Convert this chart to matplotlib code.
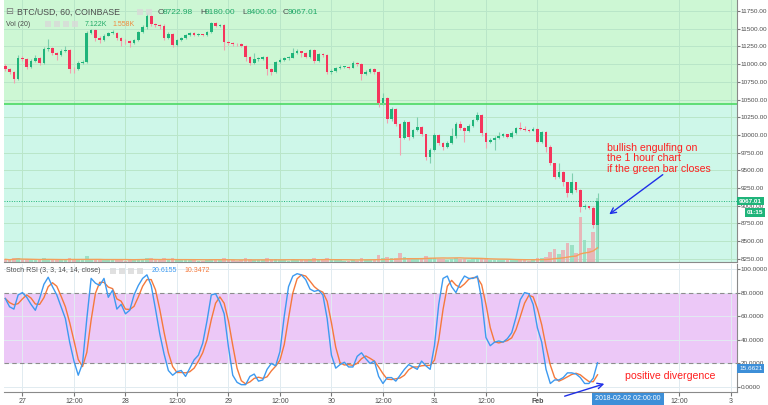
import numpy as np
import pandas as pd
import matplotlib
matplotlib.use('Agg')
import matplotlib.pyplot as plt
from matplotlib.ticker import FuncFormatter
from matplotlib.patches import Rectangle

plt.rcParams['font.family'] = ['Liberation Sans', 'DejaVu Sans']

# hourly BTC/USD candles, Jan 26 20:00 -> Feb 1 14:00
first_open = 10974
closes = [10931, 10889, 10790, 11086, 11072, 10960, 11044, 11086, 11016, 11213,
          11228, 11157, 11129, 11185, 11199, 10931, 10924, 11016, 11030, 11440,
          11482, 11369, 11340, 11397, 11440, 11446, 11369, 11326, 11320, 11298,
          11340, 11453, 11524, 11680, 11560, 11550, 11540, 11370, 11430, 11270,
          11340, 11362, 11411, 11440, 11411, 11418, 11410, 11453, 11580, 11538,
          11552, 11312, 11291, 11284, 11280, 11256, 11100, 11016, 11072, 11075,
          11100, 10931, 10889, 11030, 11058, 11086, 11090, 11157, 11185, 11157,
          11100, 11199, 11044, 11143, 11129, 10889, 10903, 10945, 10960, 10965,
          10950, 11016, 11002, 10860, 10889, 10924, 10889, 10451, 10520, 10225,
          10366, 10154, 9957, 10183, 9971, 10070, 10112, 10013, 9688, 9787,
          9999, 9886, 9830, 9886, 9985, 10155, 10098, 10056, 10126, 10211,
          10282, 10027, 9900, 9928, 9950, 9985, 10013, 9971, 10027, 10098,
          10090, 10070, 10060, 10090, 9900, 10041, 9830, 9604, 9406, 9477,
          9335, 9180, 9335, 9222, 8982, 8995, 8975, 8722.98, 9067.01]
highs = [11000, 10950, 10900, 11130, 11110, 11080, 11070, 11130, 11100, 11240,
         11355, 11240, 11170, 11210, 11260, 11210, 10960, 11040, 11060, 11470,
         11500, 11490, 11390, 11420, 11460, 11480, 11460, 11380, 11350, 11340,
         11360, 11470, 11550, 11720, 11700, 11580, 11570, 11560, 11450, 11440,
         11360, 11380, 11430, 11460, 11450, 11440, 11430, 11470, 11600, 11600,
         11570, 11570, 11330, 11310, 11300, 11300, 11270, 11110, 11157, 11100,
         11120, 11110, 10940, 11050, 11080, 11100, 11110, 11227, 11210, 11190,
         11170, 11220, 11210, 11160, 11160, 11140, 10930, 10960, 10990, 10980,
         10980, 11040, 11030, 11010, 10910, 10950, 10940, 10900, 10590, 10530,
         10400, 10380, 10170, 10210, 10190, 10090, 10250, 10120, 10020, 9820,
         10030, 10010, 9900, 9910, 10100, 10180, 10200, 10110, 10150, 10230,
         10320, 10290, 10040, 9950, 9990, 10040, 10030, 10020, 10050, 10110,
         10183, 10120, 10090, 10110, 10100, 10060, 10050, 9860, 9610, 9600,
         9490, 9340, 9462, 9340, 9230, 9020, 9000, 8990, 9180]
lows = [10900, 10860, 10740, 10780, 11040, 10930, 10950, 11030, 10990, 11000,
        11190, 11130, 11060, 11110, 11170, 10880, 10880, 10910, 11000, 11010,
        11420, 11330, 11300, 11320, 11390, 11420, 11340, 11260, 11290, 11240,
        11280, 11320, 11440, 11500, 11540, 11520, 11500, 11340, 11350, 11240,
        11250, 11330, 11350, 11400, 11390, 11400, 11390, 11400, 11440, 11520,
        11520, 11200, 11270, 11260, 11260, 11240, 11050, 10990, 11000, 11050,
        11060, 10846, 10840, 10870, 11020, 11040, 11060, 11080, 11140, 11100,
        11080, 11090, 11010, 11030, 11100, 10860, 10860, 10890, 10930, 10940,
        10930, 10940, 10980, 10776, 10840, 10880, 10860, 10400, 10420, 10170,
        10200, 10120, 9717, 9940, 9930, 9950, 10050, 9980, 9646, 9604,
        9770, 9860, 9787, 9810, 9870, 9960, 10070, 9900, 10040, 10110,
        10190, 9980, 9815, 9880, 9787, 9940, 9970, 9950, 9960, 10010,
        10070, 10050, 10040, 10050, 9880, 9880, 9760, 9570, 9380, 9390,
        9280, 9124, 9170, 9200, 8912, 8960, 8950, 8686, 8400]
# volume in thousands
volume = [0.3, 0.2, 0.4, 0.5, 0.2, 0.3, 0.2, 0.2, 0.2, 0.4,
          0.3, 0.2, 0.2, 0.2, 0.2, 0.5, 0.3, 0.2, 0.2, 0.7,
          0.3, 0.3, 0.2, 0.2, 0.2, 0.2, 0.3, 0.2, 0.1, 0.2,
          0.2, 0.3, 0.3, 0.5, 0.4, 0.2, 0.2, 0.4, 0.3, 0.4,
          0.2, 0.2, 0.2, 0.2, 0.2, 0.1, 0.1, 0.2, 0.3, 0.2,
          0.2, 0.5, 0.2, 0.2, 0.1, 0.2, 0.4, 0.3, 0.2, 0.2,
          0.2, 0.4, 0.3, 0.3, 0.2, 0.2, 0.1, 0.3, 0.2, 0.2,
          0.2, 0.3, 0.4, 0.3, 0.2, 0.5, 0.2, 0.2, 0.2, 0.1,
          0.1, 0.2, 0.1, 0.4, 0.2, 0.2, 0.2, 0.8, 0.4, 0.6,
          0.4, 0.5, 1.0, 0.6, 0.5, 0.4, 0.3, 0.3, 0.7, 0.5,
          0.4, 0.3, 0.3, 0.2, 0.3, 0.4, 0.3, 0.3, 0.2, 0.3,
          0.3, 0.4, 0.4, 0.2, 0.2, 0.2, 0.2, 0.2, 0.2, 0.2,
          0.2, 0.2, 0.1, 0.2, 0.5, 0.4, 0.6, 1.1, 1.5, 0.9,
          1.3, 2.1, 1.9, 1.0, 5.0, 2.4, 1.6, 3.3, 7.12]
# stoch rsi %K
stoch_k = [75, 68, 66, 78, 80, 76, 70, 65, 75, 87,
           93, 85, 78, 68, 58, 38, 22, 10, 20, 58,
           92, 88, 86, 92, 76, 82, 66, 70, 62, 65,
           78, 86, 92, 95, 86, 66, 45, 28, 14, 10,
           13, 14, 9, 16, 23, 27, 37, 56, 78, 79,
           72, 62, 34, 10, 4, 2, 2, 9, 11, 5,
           6, 15, 20, 18, 30, 60, 85, 94, 96, 95,
           91, 83, 81, 82, 78, 58, 27, 16, 19, 21,
           17, 17, 26, 29, 24, 20, 22, 9, 3, 8,
           8, 5, 10, 15, 19, 17, 15, 22, 18, 15,
           35, 70, 92, 94, 85, 80, 88, 94, 92, 92,
           94, 74, 42, 35, 38, 39, 38, 41, 46, 59,
           74, 80, 79, 70, 50, 38, 15, 3, 6, 6,
           8, 12, 12, 11, 8, 3, 3, 7.5, 20.6]

xtick_pos = [4, 16, 28, 40, 52, 64, 76, 88, 100, 112, 124, 157, 169]
xtick_lab = ['27', '12:00', '28', '12:00', '29', '12:00', '30', '12:00',
             '31', '12:00', 'Feb', '12:00', '3']

closes = np.array(closes)
opens = np.r_[first_open, closes[:-1]]
highs = np.array(highs)
lows = np.array(lows)
volume = np.array(volume)
x = np.arange(len(closes))
vol_ma = pd.Series(volume).rolling(20, min_periods=1).mean()
stoch_d = pd.Series(stoch_k).rolling(3, min_periods=1).mean()

W, H = 768, 405
UP, DN = '#1fb47a', '#f5355c'
BLUE, ORANGE = '#3d9af0', '#f5793b'
GREY = '#4d4d4d'
FS = 5
FSY = 4.6


def box(x0, y0, x1, y1):
    return [x0 / W, 1 - y1 / H, (x1 - x0) / W, (y1 - y0) / H]


def px(x0, y0):
    return x0 / W, 1 - y0 / H


fig = plt.figure(figsize=(W / 100, H / 100), dpi=100)
ax = fig.add_axes(box(4, 0, 737, 262))
ax2 = fig.add_axes(box(4, 264, 737, 392), sharex=ax)

ylo, yhi = 8206, 11905
ax.set_ylim(ylo, yhi)
ax.set_xlim(-0.3, 170.5)
ax.axhspan(10437, yhi, color='#cdf7d4', zorder=0, lw=0)
ax.axhspan(ylo, 10437, color='#cef7e9', zorder=0, lw=0)
ax.axhline(10437, color='#4cd964', lw=1.2, zorder=2)
ax.axhline(closes[-1], color='#1fb47a', lw=0.7, ls=(0, (1, 1.5)), zorder=2)

# volume
vk = (yhi - ylo) / 29.2
up = closes >= opens
ax.bar(x, volume * vk, bottom=ylo, width=0.85,
       color=np.where(up, '#8fdcbc', '#eea7ad'), alpha=0.8, lw=0, zorder=1)
ax.plot(x, ylo + vol_ma * vk, color='#f4a05a', lw=1, zorder=1.5)

# candles
ax.vlines(x, lows, highs, colors=np.where(up, '#7fcfae', '#f2a0b0'), lw=0.8, zorder=2.5)
ax.bar(x, np.maximum(np.abs(closes - opens), 9), bottom=np.minimum(opens, closes),
       width=0.62, color=np.where(up, UP, DN), lw=0, zorder=3)

ax.set_axisbelow(True)
ax.grid(True, color='#b9e6c8', lw=0.7)
ax.set_yticks(np.arange(8250, 11751, 250))
ax.yaxis.tick_right()
ax.yaxis.set_major_formatter(FuncFormatter(lambda v, p: '%.2f' % v))
ax.tick_params(axis='y', labelsize=FSY, colors='#777777', labelcolor=GREY, length=2, pad=0.6)
ax.tick_params(axis='x', labelbottom=False, length=0)
for s in ['top', 'left']:
    ax.spines[s].set_visible(False)
ax.spines['right'].set_color('#8a8a8a')
ax.spines['bottom'].set_color('#8a8a8a')

# stoch rsi pane
ax2.set_ylim(-4.2, 104.2)
ax2.axhspan(20, 80, color='#ecc8f7', lw=0, zorder=0)
ax2.axhline(80, color='#8c8c8c', lw=0.8, ls=(0, (4, 3)), zorder=1)
ax2.axhline(20, color='#8c8c8c', lw=0.8, ls=(0, (4, 3)), zorder=1)
ax2.plot(x, stoch_d, color=ORANGE, lw=1, zorder=3)
ax2.plot(x, stoch_k, color=BLUE, lw=1, zorder=3)
ax2.set_axisbelow(True)
ax2.grid(True, color='#e1ebf0', lw=0.7)
ax2.set_yticks([0, 20, 40, 60, 80, 100])
ax2.yaxis.tick_right()
ax2.yaxis.set_major_formatter(FuncFormatter(lambda v, p: '%.4f' % v))
ax2.tick_params(axis='y', labelsize=FSY, colors='#777777', labelcolor=GREY, length=2, pad=0.6)
ax2.set_xticks(xtick_pos)
ax2.set_xticklabels(xtick_lab)
ax2.tick_params(axis='x', labelsize=FS, colors='#777777', labelcolor=GREY, length=3, pad=1.5)
for lab in ax2.get_xticklabels():
    if lab.get_text() == 'Feb':
        lab.set_fontweight('bold')
for s in ['top', 'left']:
    ax2.spines[s].set_visible(False)
ax2.spines['right'].set_color('#8a8a8a')
ax2.spines['bottom'].set_color('#8a8a8a')

# price / value tags on the right axis
tr = ax.get_yaxis_transform()
ax.text(1.003, closes[-1], '%.2f' % closes[-1], transform=tr, fontsize=FSY, color='white',
        fontweight='bold', va='center', ha='left',
        bbox=dict(boxstyle='square,pad=0.3', fc='#1fb47a', ec='none'))
ax.text(1.013, closes[-1] - 160, '01:15', transform=tr, fontsize=FSY, color='white',
        fontweight='bold', va='center', ha='left',
        bbox=dict(boxstyle='square,pad=0.3', fc='#1fb47a', ec='none'))
ax2.text(1.003, 15.6621, '15.6621', transform=ax2.get_yaxis_transform(), fontsize=FSY,
         color='white', va='center', ha='left',
         bbox=dict(boxstyle='square,pad=0.3', fc='#3d8fd8', ec='none'))
fig.text(*px(628, 399), '2018-02-02 02:00:00', fontsize=FS, color='white', ha='center',
         va='center', bbox=dict(boxstyle='square,pad=0.4', fc='#3d8fd8', ec='none'))

# legend lines
fig.text(*px(5, 12), '⊟', fontsize=6.8, color='#777777', va='center',
         family=['DejaVu Sans'])
fig.text(*px(17, 12), 'BTC/USD, 60, COINBASE', fontsize=6.3, color=GREY, va='center')
for xx, letter, val in [(158, 'O', '8722.98'), (200, 'H', '9180.00'),
                        (242, 'L', '8400.00'), (283, 'C', '9067.01')]:
    fig.text(*px(xx, 12), letter, fontsize=6, color=GREY, va='center')
    fig.text(*px(xx + 5, 12), val, fontsize=6, color='#1fa866', va='center')
fig.text(*px(6, 24), 'Vol (20)', fontsize=FS, color=GREY, va='center')
fig.text(*px(85, 24), '7.122K', fontsize=FS, color='#1fa866', va='center')
fig.text(*px(112, 24), '1.558K', fontsize=FS, color='#f08a3c', va='center')
fig.text(*px(6, 271), 'Stoch RSI (3, 3, 14, 14, close)', fontsize=FS, color=GREY, va='center')
fig.text(*px(152, 271), '20.6155', fontsize=FS, color=BLUE, va='center')
fig.text(*px(184, 271), '10.3472', fontsize=FS, color=ORANGE, va='center')

# small legend buttons
for bx, by, n in [(137, 9, 2), (45, 21, 4), (110, 268, 4)]:
    for k in range(n):
        fig.patches.append(Rectangle((bx + 9 * k, H - by - 6), 6, 6, transform=None,
                                     fc='#d9d9d9', ec='none', alpha=0.8))

# annotations
fig.text(*px(607, 143), 'bullish engulfing on\nthe 1 hour chart\nif the green bar closes',
         fontsize=7.6, color='#ff1f1f', va='top', ha='left', linespacing=1.05)
ax.annotate('', xy=(607, H - 216), xytext=(665, H - 173), xycoords='figure pixels',
            textcoords='figure pixels',
            arrowprops=dict(arrowstyle='->', color='#1f2fe8', lw=1))
fig.text(*px(625, 376), 'positive divergence', fontsize=7.6, color='#ff1f1f', va='center')
ax2.annotate('', xy=(607, H - 383), xytext=(562, H - 397), xycoords='figure pixels',
             textcoords='figure pixels',
             arrowprops=dict(arrowstyle='->', color='#1f2fe8', lw=1), annotation_clip=False)

fig.savefig('out.png', dpi=100)
